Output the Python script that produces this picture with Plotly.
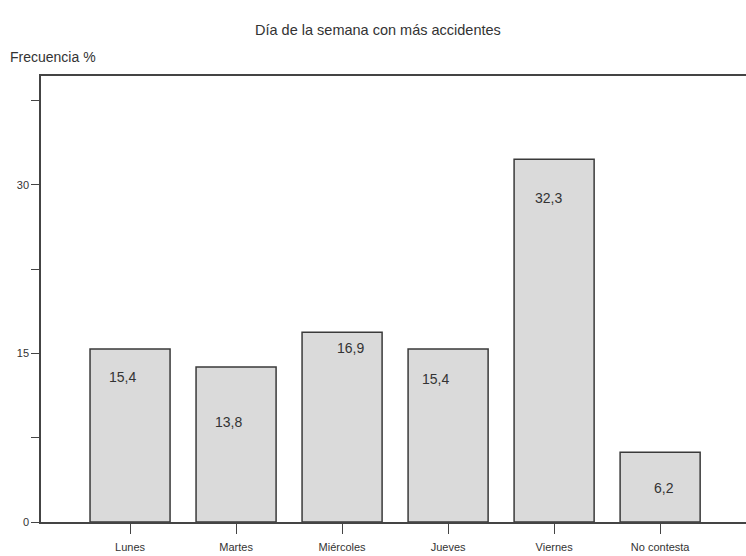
import plotly.graph_objects as go

categories = ["Lunes", "Martes", "Miércoles", "Jueves", "Viernes", "No contesta"]
values = [15.4, 13.8, 16.9, 15.4, 32.3, 6.2]
value_labels = ["15,4", "13,8", "16,9", "15,4", "32,3", "6,2"]
y_tickvals = [0, 7.5, 15, 22.5, 30, 37.5]
y_ticktext = ["0", "", "15", "", "30", ""]

# label pixel offsets (style only)
label_xshift = [-8, -8, 8, -13, -6, 4]
label_yshift = [-28, -55, -16, -30, -39, -36]

fig = go.Figure()
fig.add_trace(go.Bar(
    x=list(range(len(categories))), y=values,
    width=0.755,
    marker=dict(color="#dadada", line=dict(color="#3a3a3a", width=1.5)),
    hoverinfo="skip",
))

for i, (v, t) in enumerate(zip(values, value_labels)):
    fig.add_annotation(x=i, y=v, text=t, showarrow=False,
                       xshift=label_xshift[i], yshift=label_yshift[i],
                       font=dict(size=14, color="#333333"))

fig.add_annotation(xref="paper", yref="paper", x=0.478, y=1.0, yshift=46,
                   yanchor="middle", xanchor="center",
                   text="Día de la semana con más accidentes", showarrow=False,
                   font=dict(size=14.5, color="#333333"))
fig.add_annotation(xref="paper", yref="paper", x=-0.047, y=1.0, yshift=19,
                   yanchor="middle", xanchor="left",
                   text="Frecuencia %", showarrow=False,
                   font=dict(size=14, color="#333333"))

tick_font = dict(size=11, color="#333333")
fig.update_layout(
    width=746, height=556,
    margin=dict(l=41, r=0, t=76, b=34),
    paper_bgcolor="white", plot_bgcolor="white",
    font=dict(family="Liberation Sans, Arial, sans-serif", color="#333333"),
    showlegend=False,
    xaxis=dict(
        range=[-0.84, 5.81],
        tickvals=list(range(len(categories))), ticktext=categories,
        ticks="outside", ticklen=10, tickcolor="#444", tickwidth=1,
        ticklabelstandoff=4,
        showline=True, linecolor="#444", linewidth=1.5, mirror=True,
        showgrid=False, zeroline=False,
        tickfont=tick_font,
    ),
    yaxis=dict(
        range=[0, 39.7],
        tickvals=y_tickvals, ticktext=y_ticktext,
        ticks="outside", ticklen=8, tickcolor="#444", tickwidth=1,
        showline=True, linecolor="#444", linewidth=1.5,
        showgrid=False, zeroline=False,
        tickfont=tick_font,
    ),
)

fig.write_html("out.html", config={"displayModeBar": False},
               post_script="document.body.style.margin='0';document.body.style.overflow='hidden';")
